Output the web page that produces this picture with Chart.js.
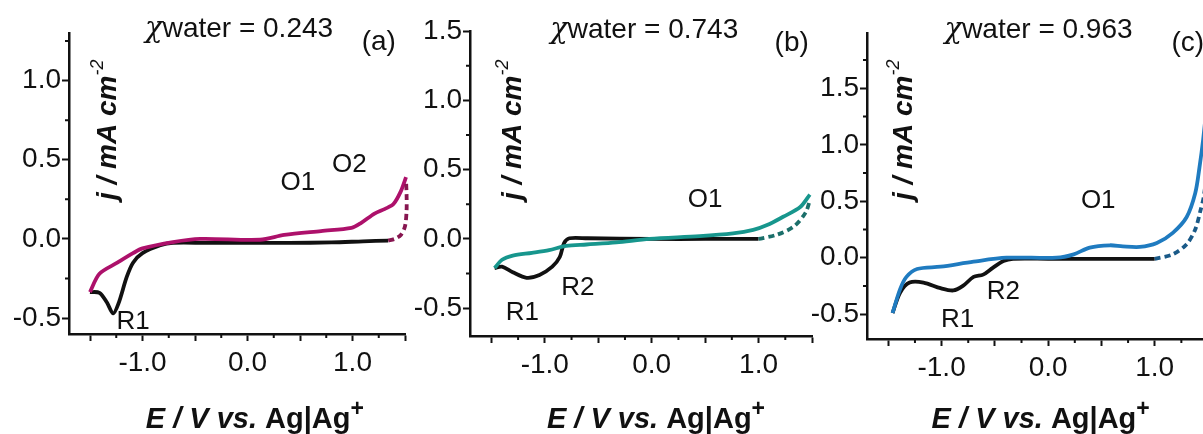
<!DOCTYPE html>
<html>
<head>
<meta charset="utf-8">
<script src="https://cdn.jsdelivr.net/npm/chart.js@4.4.1/dist/chart.umd.min.js"></script>
<style>
  body { margin: 0; background: #fff; width: 1203px; height: 434px; overflow: hidden; position: relative; }
  canvas { position: absolute; top: 0; }
</style>
</head>
<body>
<canvas id="panelA" width="410" height="434" style="left:0px"></canvas>
<canvas id="panelB" width="410" height="434" style="left:410px"></canvas>
<canvas id="panelC" width="420" height="434" style="left:800px"></canvas>
<script>
const FONT = '"Liberation Sans", Arial, sans-serif';

// shared x axis (E / V)
const xTicks = [-1.5, -1.25, -1, -0.75, -0.5, -0.25, 0, 0.25, 0.5, 0.75, 1, 1.25, 1.5];
const xLabelled = [-1, 0, 1];

// (a) xwater = 0.243
const aCathE = [-1.50, -1.41, -1.34, -1.28, -1.23, -1.15, -1.09, -1.00, -0.83, -0.71, -0.40, 0.00, 0.40, 0.80, 1.10, 1.34];
const aCathJ = [-0.335, -0.34, -0.40, -0.47, -0.41, -0.24, -0.15, -0.09, -0.04, -0.025, -0.025, -0.025, -0.025, -0.022, -0.015, -0.01];
const aAnodE = [-1.50, -1.41, -1.24, -1.09, -1.00, -0.71, -0.45, 0.12, 0.35, 0.70, 0.99, 1.08, 1.21, 1.31, 1.39, 1.46, 1.51];
const aAnodJ = [-0.335, -0.22, -0.15, -0.09, -0.06, -0.02, 0.0, -0.005, 0.025, 0.05, 0.07, 0.10, 0.16, 0.19, 0.22, 0.30, 0.39];
const aTurnE = [1.34, 1.40, 1.46, 1.50, 1.515, 1.515, 1.51];
const aTurnJ = [-0.01, 0.0, 0.025, 0.08, 0.18, 0.28, 0.37];
const aYTicks = [-0.5, -0.25, 0, 0.25, 0.5, 0.75, 1, 1.25];
const aYLabelled = [-0.5, 0, 0.5, 1];
const aNotes = ['O1', 'O2', 'R1'];
const aNoteE = [0.48, 0.97, -1.09];
const aNoteJ = [0.355, 0.47, -0.525];

// (b) xwater = 0.743
const bCathE = [-1.47, -1.40, -1.30, -1.17, -1.05, -0.93, -0.86, -0.82, -0.77, -0.60, 0.0, 0.5, 1.0];
const bCathJ = [-0.21, -0.20, -0.24, -0.28, -0.26, -0.20, -0.13, -0.03, 0.005, 0.005, 0.0, 0.0, 0.0];
const bAnodE = [-1.47, -1.40, -1.30, -1.12, -0.96, -0.80, -0.61, -0.33, -0.02, 0.45, 0.76, 0.95, 1.08, 1.23, 1.39, 1.48];
const bAnodJ = [-0.21, -0.15, -0.12, -0.10, -0.08, -0.05, -0.04, -0.025, 0.0, 0.02, 0.04, 0.065, 0.10, 0.16, 0.23, 0.32];
const bTurnE = [1.00, 1.17, 1.33, 1.44, 1.48];
const bTurnJ = [0.0, 0.03, 0.09, 0.19, 0.28];
const bYTicks = [-0.5, -0.25, 0, 0.25, 0.5, 0.75, 1, 1.25, 1.5];
const bYLabelled = [-0.5, 0, 0.5, 1, 1.5];
const bNotes = ['O1', 'R2', 'R1'];
const bNoteE = [0.50, -0.69, -1.21];
const bNoteJ = [0.28, -0.35, -0.53];

// (c) xwater = 0.963
const cCathE = [-1.46, -1.39, -1.30, -1.17, -1.01, -0.89, -0.80, -0.70, -0.61, -0.52, -0.42, -0.33, 0.0, 0.5, 1.0];
const cCathJ = [-0.49, -0.31, -0.22, -0.22, -0.27, -0.29, -0.25, -0.17, -0.15, -0.09, -0.03, -0.01, -0.01, -0.01, -0.01];
const cAnodE = [-1.46, -1.39, -1.33, -1.23, -1.01, -0.70, -0.39, 0.08, 0.24, 0.39, 0.58, 0.70, 0.86, 1.02, 1.17, 1.30, 1.38, 1.42, 1.455, 1.50];
const cAnodJ = [-0.49, -0.28, -0.17, -0.10, -0.08, -0.035, 0.0, 0.0, 0.03, 0.09, 0.11, 0.10, 0.095, 0.13, 0.22, 0.36, 0.57, 0.80, 1.05, 1.45];
const cTurnE = [1.00, 1.17, 1.30, 1.38, 1.43, 1.46, 1.50];
const cTurnJ = [-0.01, 0.03, 0.12, 0.25, 0.42, 0.54, 0.85];
const cYTicks = [-0.5, -0.25, 0, 0.25, 0.5, 0.75, 1, 1.25, 1.5, 1.75];
const cYLabelled = [-0.5, 0, 0.5, 1, 1.5];
const cNotes = ['O1', 'R2', 'R1'];
const cNoteE = [0.47, -0.42, -0.85];
const cNoteJ = [0.50, -0.30, -0.55];

function pts(xs, ys) {
  return xs.map((x, i) => ({ x: x, y: ys[i] }));
}

function isMajor(v) {
  return Math.abs(v * 2 - Math.round(v * 2)) < 1e-6;
}

function drawRich(ctx, parts, x, y, align) {
  let w = 0;
  parts.forEach(p => { ctx.font = p[1]; w += ctx.measureText(p[0]).width; });
  let cx = align === 'center' ? x - w / 2 : x;
  ctx.textAlign = 'left';
  ctx.textBaseline = 'alphabetic';
  parts.forEach(p => {
    ctx.font = p[1];
    ctx.fillText(p[0], cx, y + (p[2] || 0));
    cx += ctx.measureText(p[0]).width;
  });
}

// minor ticks, panel titles, peak labels and axis titles
const panelText = {
  id: 'panelText',
  afterDraw(chart, args, o) {
    const { ctx, scales: { x, y } } = chart;
    ctx.save();
    ctx.strokeStyle = '#111';
    ctx.fillStyle = '#111';
    ctx.lineWidth = 2;
    ctx.beginPath();
    x.ticks.forEach(t => {
      if (isMajor(t.value)) return;
      const px = x.getPixelForValue(t.value);
      ctx.moveTo(px, x.top);
      ctx.lineTo(px, x.top + 4);
    });
    y.ticks.forEach(t => {
      if (isMajor(t.value)) return;
      const py = y.getPixelForValue(t.value);
      ctx.moveTo(y.right - 4, py);
      ctx.lineTo(y.right, py);
    });
    ctx.stroke();

    // chi with a Greek-style glyph, rest in the plain sans
    drawRich(ctx, [
      ['\u03c7', 'italic 29px "DejaVu Serif"'],
      [o.title, '28px ' + FONT]
    ], x.getPixelForValue(o.titleAt[0]), y.getPixelForValue(o.titleAt[1]) + 10, 'center');

    ctx.textAlign = 'center';
    ctx.textBaseline = 'middle';
    ctx.font = '28px ' + FONT;
    ctx.fillText(o.letter, x.getPixelForValue(o.letterAt[0]), y.getPixelForValue(o.letterAt[1]));

    ctx.font = '26px ' + FONT;
    o.notes.forEach((n, i) => {
      ctx.fillText(n, x.getPixelForValue(o.noteE[i]), y.getPixelForValue(o.noteJ[i]));
    });

    // x title
    drawRich(ctx, [
      ['E / V vs. ', 'italic bold 29px ' + FONT],
      ['Ag|Ag', 'bold 29px ' + FONT],
      ['+', 'bold 23px ' + FONT, -12]
    ], x.getPixelForValue(o.xTitleE), 428, 'center');

    // y title, inside the plot
    ctx.save();
    ctx.translate(chart.chartArea.left + o.yTitleOff, 200);
    ctx.rotate(-Math.PI / 2);
    drawRich(ctx, [
      ['j / mA cm', 'italic bold 28px ' + FONT],
      ['-2', 'italic 18px ' + FONT, -13]
    ], 0, 0, 'left');
    ctx.restore();
    ctx.restore();
  }
};

function makePanel(id, p) {
  const line = (data, color, dash) => ({
    data: data,
    showLine: true,
    borderColor: color,
    borderWidth: 3.8,
    borderDash: dash || [],
    pointRadius: 0,
    tension: 0.3,
    fill: false,
    clip: 10
  });
  const axisGrid = {
    drawOnChartArea: false,
    tickLength: 7,
    tickWidth: 2,
    tickColor: c => (c.tick && isMajor(c.tick.value)) ? '#111' : 'rgba(0,0,0,0)'
  };
  new Chart(document.getElementById(id), {
    type: 'scatter',
    data: {
      datasets: [
        line(p.turn, p.dashColor, [6, 4]),
        line(p.anod, p.color),
        line(p.cath, '#111')
      ]
    },
    plugins: [panelText],
    options: {
      responsive: false,
      animation: false,
      layout: { padding: { left: 0, top: p.top, right: p.right, bottom: 0 } },
      plugins: {
        legend: { display: false },
        tooltip: { enabled: false },
        panelText: p.text
      },
      scales: {
        x: {
          type: 'linear',
          min: -1.7,
          max: 1.5,
          afterBuildTicks: s => { s.ticks = xTicks.map(v => ({ value: v })); },
          afterFit: s => { s.height = p.xHeight; },
          border: { display: true, color: '#111', width: 2.5 },
          grid: axisGrid,
          ticks: {
            color: '#111',
            font: { family: FONT, size: 28 },
            padding: 5,
            maxRotation: 0,
            autoSkip: false,
            callback: v => xLabelled.includes(v) ? v.toFixed(1) : ''
          }
        },
        y: {
          type: 'linear',
          min: p.yMin,
          max: p.yMax,
          afterBuildTicks: s => { s.ticks = p.yTicks.map(v => ({ value: v })); },
          afterFit: s => { s.width = p.yWidth; },
          border: { display: true, color: '#111', width: 2.5 },
          grid: axisGrid,
          ticks: {
            color: '#111',
            font: { family: FONT, size: 28 },
            padding: 1,
            autoSkip: false,
            callback: v => p.yLabelled.includes(v) ? v.toFixed(1) : ''
          }
        }
      }
    }
  });
}

makePanel('panelA', {
  cath: pts(aCathE, aCathJ), anod: pts(aAnodE, aAnodJ), turn: pts(aTurnE, aTurnJ),
  color: '#ad116b', dashColor: '#871650',
  yMin: -0.6, yMax: 1.3, yTicks: aYTicks, yLabelled: aYLabelled,
  top: 33, right: 5, yWidth: 69, xHeight: 100,
  text: {
    title: 'water = 0.243', titleAt: [-0.08, 1.335],
    letter: '(a)', letterAt: [1.25, 1.24],
    notes: aNotes, noteE: aNoteE, noteJ: aNoteJ,
    xTitleE: 0.07, yTitleOff: 47
  }
});

makePanel('panelB', {
  cath: pts(bCathE, bCathJ), anod: pts(bAnodE, bAnodJ), turn: pts(bTurnE, bTurnJ),
  color: '#17968d', dashColor: '#1b6f6a',
  yMin: -0.7, yMax: 1.5, yTicks: bYTicks, yLabelled: bYLabelled,
  top: 31, right: 8, yWidth: 60, xHeight: 98,
  text: {
    title: 'water = 0.743', titleAt: [-0.07, 1.52],
    letter: '(b)', letterAt: [1.31, 1.41],
    notes: bNotes, noteE: bNoteE, noteJ: bNoteJ,
    xTitleE: 0.04, yTitleOff: 51
  }
});

makePanel('panelC', {
  cath: pts(cCathE, cCathJ), anod: pts(cAnodE, cAnodJ), turn: pts(cTurnE, cTurnJ),
  color: '#1f7bc0', dashColor: '#1a5a88',
  yMin: -0.72, yMax: 1.99, yTicks: cYTicks, yLabelled: cYLabelled,
  top: 33, right: 12, yWidth: 67, xHeight: 95,
  text: {
    title: 'water = 0.963', titleAt: [-0.09, 2.03],
    letter: '(c)', letterAt: [1.31, 1.90],
    notes: cNotes, noteE: cNoteE, noteJ: cNoteJ,
    xTitleE: -0.07, yTitleOff: 45
  }
});
</script>
</body>
</html>
